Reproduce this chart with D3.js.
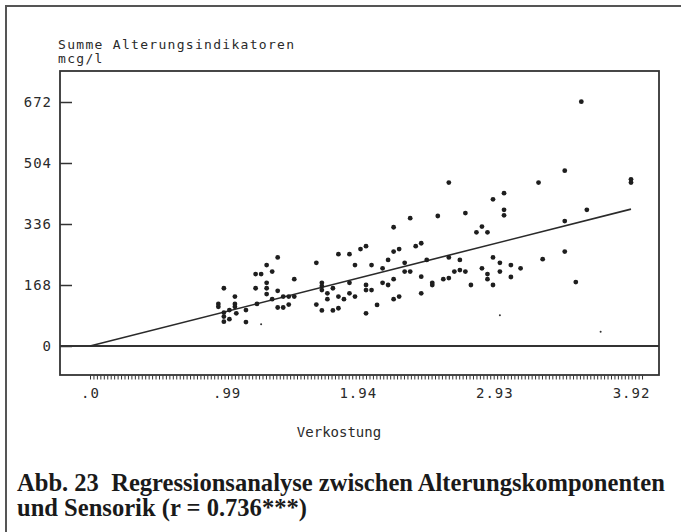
<!DOCTYPE html>
<html>
<head>
<meta charset="utf-8">
<script src="https://cdn.jsdelivr.net/npm/d3@7"></script>
<style>
  body { margin: 0; background: #fff; }
  .plot text { font-family: "DejaVu Sans Mono", monospace; fill: #2a2a2a; }
</style>
</head>
<body>
<div id="chart"></div>
<script>
// values
var verkostung = [0.93, 0.93, 0.97, 0.97, 0.97, 0.97, 1.01, 1.01, 1.05, 1.05,
  1.05, 1.06, 1.13, 1.13, 1.20, 1.20, 1.24, 1.21, 1.28, 1.32,
  1.28, 1.28, 1.28, 1.32, 1.36, 1.36, 1.36, 1.40, 1.40, 1.44,
  1.48, 1.44, 1.48, 1.64, 1.64, 1.68, 1.68, 1.68, 1.68, 1.72,
  1.72, 1.76, 1.76, 1.80, 1.80, 1.80, 1.84, 1.88, 1.88, 1.88,
  1.92, 1.92, 1.96, 2.00, 2.00, 2.00, 2.00, 2.04, 2.04, 2.08,
  2.12, 2.12, 2.16, 2.16, 2.20, 2.20, 2.20, 2.20, 2.24, 2.24,
  2.28, 2.28, 2.32, 2.32, 2.36, 2.40, 2.40, 2.40, 2.44, 2.48,
  2.48, 2.52, 2.56, 2.60, 2.60, 2.60, 2.64, 2.68, 2.68, 2.72,
  2.72, 2.76, 2.80, 2.84, 2.88, 2.84, 2.88, 2.88, 2.92, 2.92,
  2.92, 2.97, 2.97, 3.00, 3.00, 3.00, 3.05, 3.05, 3.12, 3.25,
  3.28, 3.44, 3.44, 3.44, 3.52, 3.56, 3.60, 3.92, 3.92];
var alterung = [116, 108, 159, 92, 81, 67, 99, 74, 136, 116,
  108, 90, 99, 66, 159, 198, 198, 116, 223, 205,
  174, 159, 143, 129, 244, 152, 106, 106, 136, 136,
  136, 114, 184, 229, 114, 174, 165, 154, 98, 145,
  129, 159, 98, 253, 136, 104, 129, 253, 174, 145,
  223, 136, 267, 275, 168, 154, 90, 223, 154, 113,
  214, 174, 237, 168, 327, 260, 184, 129, 267, 136,
  229, 205, 205, 352, 275, 283, 191, 145, 237, 174,
  168, 358, 184, 187, 244, 450, 205, 209, 237, 205,
  366, 168, 313, 329, 313, 214, 198, 184, 404, 244,
  168, 229, 205, 421, 375, 360, 223, 190, 214, 450,
  239, 483, 344, 260, 176, 673, 375, 459, 450];
// faint small dots
var kleinX = [1.24, 2.97, 3.70];
var kleinY = [60, 85, 39];
// regression line end points
var regX = [0, 3.92];
var regY = [0, 377];

var xTicks = [0, 0.99, 1.94, 2.93, 3.92];
var xTickLabels = [".0", ".99", "1.94", "2.93", "3.92"];
var yTicks = [0, 168, 336, 504, 672];

var width = 681, height = 532;

var svg = d3.select("#chart").append("svg")
    .attr("width", width)
    .attr("height", height);

// outer page border (left and top)
svg.append("path")
    .attr("d", "M6,532V6H681")
    .attr("fill", "none")
    .attr("stroke", "#555")
    .attr("stroke-width", 2);

var plot = svg.append("g").attr("class", "plot");

var x = d3.scaleLinear().domain([0, 3.92]).range([90, 631]);
var y = d3.scaleLinear().domain([0, 672]).range([346, 102]);

var frame = {left: 60, top: 71, right: 659, bottom: 375};

// frame
plot.append("rect")
    .attr("x", frame.left)
    .attr("y", frame.top)
    .attr("width", frame.right - frame.left)
    .attr("height", frame.bottom - frame.top)
    .attr("fill", "none")
    .attr("stroke", "#333")
    .attr("stroke-width", 1.8);

// zero line
plot.append("line")
    .attr("x1", frame.left).attr("x2", frame.right)
    .attr("y1", y(0)).attr("y2", y(0))
    .attr("stroke", "#333")
    .attr("stroke-width", 1.8);

// y axis (ticks inside, labels outside)
var yAxis = d3.axisLeft(y)
    .tickValues(yTicks)
    .tickSizeInner(-12)
    .tickSizeOuter(0)
    .tickPadding(8)
    .tickFormat(d3.format("d"));

var gy = plot.append("g")
    .attr("transform", "translate(" + frame.left + ",0)")
    .call(yAxis);
gy.select(".domain").remove();
gy.selectAll("line").attr("stroke", "#333").attr("stroke-width", 1.5);
gy.selectAll("text")
    .style("font-family", "DejaVu Sans Mono, monospace")
    .style("font-size", "14px")
    .style("letter-spacing", "1px")
    .attr("fill", "#2a2a2a");

// x minor ticks below frame
var xMinor = d3.axisBottom(x)
    .tickValues(d3.range(0, 4.001, 0.025))
    .tickSizeInner(4)
    .tickSizeOuter(0)
    .tickFormat("");
var gxm = plot.append("g")
    .attr("transform", "translate(0," + (frame.bottom + 0.5) + ")")
    .call(xMinor);
gxm.select(".domain").remove();
gxm.selectAll("line").attr("stroke", "#333").attr("stroke-width", 1);

// x labels
var xAxis = d3.axisBottom(x)
    .tickValues(xTicks)
    .tickSize(0)
    .tickPadding(13)
    .tickFormat(function(d, i) { return xTickLabels[i]; });
var gx = plot.append("g")
    .attr("transform", "translate(0," + frame.bottom + ")")
    .call(xAxis);
gx.select(".domain").remove();
gx.selectAll("text")
    .style("font-family", "DejaVu Sans Mono, monospace")
    .style("font-size", "14px")
    .style("letter-spacing", "1px")
    .attr("fill", "#2a2a2a");

// axis titles
plot.append("text")
    .attr("x", 58).attr("y", 49)
    .style("font-size", "13px")
    .style("letter-spacing", "1.3px")
    .text("Summe Alterungsindikatoren");
plot.append("text")
    .attr("x", 58).attr("y", 63)
    .style("font-size", "13px")
    .style("letter-spacing", "1.3px")
    .text("mcg/l");
plot.append("text")
    .attr("x", 339).attr("y", 437)
    .attr("text-anchor", "middle")
    .style("font-size", "14px")
    .text("Verkostung");

// regression line
var line = d3.line()
    .x(function(d) { return x(d[0]); })
    .y(function(d) { return y(d[1]); });
plot.append("path")
    .datum(d3.zip(regX, regY))
    .attr("d", line)
    .attr("fill", "none")
    .attr("stroke", "#2a2a2a")
    .attr("stroke-width", 1.6);

// points
plot.selectAll("circle.pt")
    .data(d3.zip(verkostung, alterung))
    .enter().append("circle")
    .attr("class", "pt")
    .attr("cx", function(d) { return x(d[0]); })
    .attr("cy", function(d) { return y(d[1]); })
    .attr("r", 2.4)
    .attr("fill", "#1e1e1e");

plot.selectAll("circle.klein")
    .data(d3.zip(kleinX, kleinY))
    .enter().append("circle")
    .attr("class", "klein")
    .attr("cx", function(d) { return x(d[0]); })
    .attr("cy", function(d) { return y(d[1]); })
    .attr("r", 1)
    .attr("fill", "#333");

// caption
var cap1 = svg.append("text")
    .attr("x", 17).attr("y", 491)
    .style("font-family", "Liberation Serif, Times New Roman, serif")
    .style("font-weight", "bold")
    .style("font-size", "22px")
    .attr("fill", "#1a1a1a")
    .attr("xml:space", "preserve")
    .text("Abb. 23  Regressionsanalyse zwischen Alterungskomponenten");
var fs = 22 * 648 / cap1.node().getComputedTextLength();
cap1.style("font-size", fs + "px");
svg.append("text")
    .attr("x", 17).attr("y", 516)
    .style("font-family", "Liberation Serif, Times New Roman, serif")
    .style("font-weight", "bold")
    .style("font-size", fs + "px")
    .attr("fill", "#1a1a1a")
    .text("und Sensorik (r = 0.736***)");
</script>
</body>
</html>
